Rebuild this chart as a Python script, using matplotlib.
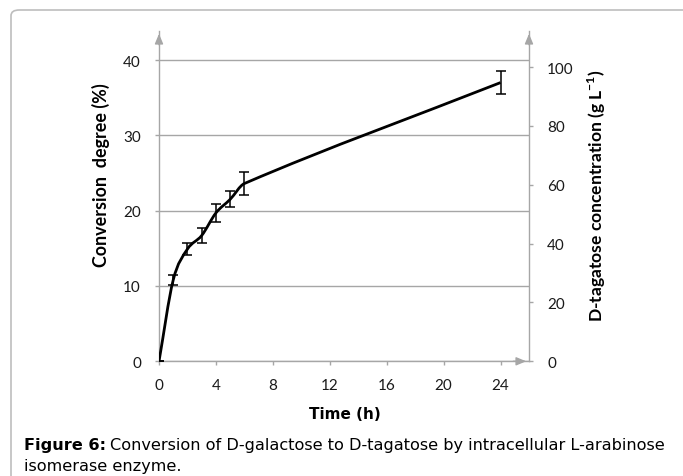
import matplotlib
matplotlib.use("Agg")
import numpy as np
import matplotlib.pyplot as plt
from matplotlib.path import Path
from matplotlib.patches import PathPatch, FancyBboxPatch

# data
time_h = [0, 1, 2, 3, 4, 5, 6, 24]
conversion = [0, 10.8, 14.9, 16.7, 19.7, 21.5, 23.6, 37.0]
conv_err = [0, 0.65, 0.8, 0.97, 1.24, 1.06, 1.48, 1.57]
x_ticks = [0, 4, 8, 12, 16, 20, 24]
left_ticks = [0, 10, 20, 30, 40]
right_ticks = [0, 20, 40, 60, 80, 100]

AX_GRAY = "#a6a6a6"
FONT = "Lato"
W, H = 683, 477


def smooth_path(xs, ys):
    """Smoothed line (cubic Hermite in x) built as Bezier segments."""
    x = np.asarray(xs, float)
    y = np.asarray(ys, float)
    n = len(x)
    m = np.zeros(n)
    m[0] = (y[1] - y[0]) / (x[1] - x[0])
    m[-1] = (y[-1] - y[-2]) / (x[-1] - x[-2])
    for i in range(1, n - 1):
        m[i] = (y[i + 1] - y[i - 1]) / (x[i + 1] - x[i - 1])
    verts = [(x[0], y[0])]
    codes = [Path.MOVETO]
    for i in range(n - 1):
        h = x[i + 1] - x[i]
        verts += [(x[i] + h / 3, y[i] + m[i] * h / 3),
                  (x[i + 1] - h / 3, y[i + 1] - m[i + 1] * h / 3),
                  (x[i + 1], y[i + 1])]
        codes += [Path.CURVE4] * 3
    return Path(verts, codes)


fig = plt.figure(figsize=(W / 100, H / 100), dpi=100)

# rounded frame around the panel (cropped at right/bottom)
frame = FancyBboxPatch((11 / W, -0.1), 1.2, 1 - 11 / H + 0.1,
                       boxstyle="round,pad=0,rounding_size=0.012",
                       transform=fig.transFigure, fill=False,
                       edgecolor="#bdbdbd", linewidth=1.2)
fig.patches.append(frame)

ax = fig.add_axes([159 / W, 1 - 362.3 / H, (529 - 159) / W, (362.3 - 32) / H])
ax.set_xlim(0, 26)
ax.set_ylim(0, 43.85)

ax2 = ax.twinx()
ax2.set_ylim(0, 43.85 * 100 / 39.05)

for s in ("top", "right"):
    ax.spines[s].set_visible(False)
for s in ("top", "left", "bottom"):
    ax2.spines[s].set_visible(False)
for s in ("left", "bottom"):
    ax.spines[s].set_color(AX_GRAY)
    ax.spines[s].set_linewidth(1.0)
ax2.spines["right"].set_color(AX_GRAY)
ax2.spines["right"].set_linewidth(1.0)

# arrow heads at axis ends
arrow_kw = dict(arrowstyle="-|>,head_length=0.6,head_width=0.25", color=AX_GRAY, lw=1.0)
ax.annotate("", xy=(0, 1.0), xytext=(0, 0.95), xycoords="axes fraction", arrowprops=arrow_kw)
ax.annotate("", xy=(1.0, 1.0), xytext=(1.0, 0.95), xycoords="axes fraction", arrowprops=arrow_kw)
ax.annotate("", xy=(1.0, 0), xytext=(0.95, 0), xycoords="axes fraction", arrowprops=arrow_kw)

ax.set_yticks(left_ticks)
ax.set_xticks(x_ticks)
ax2.set_yticks(right_ticks)
ax.yaxis.grid(True, color=AX_GRAY, linewidth=1.0)
ax.set_axisbelow(True)
ax.tick_params(axis="both", colors=AX_GRAY, length=3, width=1.0, labelcolor="#1a1a1a",
               labelsize=11)
ax.tick_params(axis="y", pad=10)
ax.tick_params(axis="x", pad=9)
ax2.tick_params(axis="y", colors=AX_GRAY, length=3, width=1.0, labelcolor="#1a1a1a",
                labelsize=11, pad=10)
for lab in ax.get_xticklabels() + ax.get_yticklabels() + ax2.get_yticklabels():
    lab.set_fontfamily(FONT)

# curve + error bars
ax.add_patch(PathPatch(smooth_path(time_h, conversion), facecolor="none",
                       edgecolor="black", linewidth=2.0, zorder=3))
ax.errorbar(time_h, conversion, yerr=conv_err, fmt="none", ecolor="black",
            elinewidth=1.1, capsize=3.5, capthick=1.1, zorder=4)

# axis titles
fig.text(345 / W, 1 - 419 / H, "Time (h)", fontfamily="DejaVu Sans", fontweight="bold",
         fontsize=11, ha="center", va="baseline")
fig.text(101 / W, 1 - 175 / H, "Conversion  degree (%)", fontfamily=FONT,
         fontweight="bold", fontsize=12.9, rotation=90, ha="center", va="center")
fig.text(597 / W, 1 - 196 / H, r"D-tagatose concentration (g L$^{\mathregular{-1}}$)",
         fontfamily=FONT, fontweight="bold", fontsize=12.6, rotation=90,
         ha="center", va="center")

# caption, bold lead-in followed by regular text
cap_font = "DejaVu Sans"
lead = fig.text(24 / W, 1 - 450 / H, "Figure 6:", fontfamily=cap_font, fontweight="bold",
                fontsize=11.6, ha="left", va="baseline")
fig.canvas.draw()
bb = lead.get_window_extent()
fig.text((bb.x1 + 4) / W, 1 - 450 / H,
         "Conversion of D-galactose to D-tagatose by intracellular L-arabinose",
         fontfamily=cap_font, fontsize=11.6, ha="left", va="baseline")
fig.text(24 / W, 1 - 471 / H, "isomerase enzyme.", fontfamily=cap_font,
         fontsize=11.6, ha="left", va="baseline")

fig.savefig("out.png", dpi=100)
